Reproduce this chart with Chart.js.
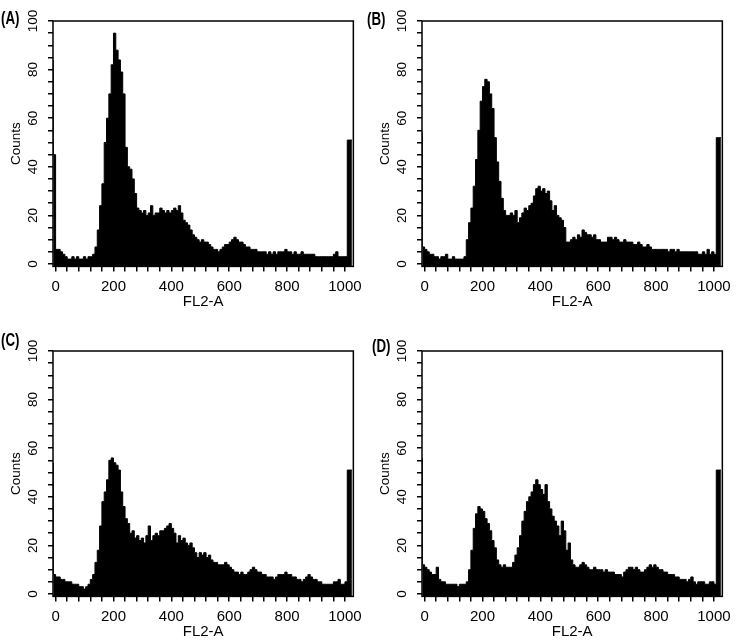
<!DOCTYPE html>
<html>
<head>
<meta charset="utf-8">
<script src="https://cdn.jsdelivr.net/npm/chart.js@4.4.0/dist/chart.umd.min.js"></script>
<style>
  body { margin: 0; background: #fff; }
  #page { position: relative; width: 737px; height: 644px; }
  canvas { position: absolute; }
  /* panel letters: condensed, medium-heavy */
  .tag {
    position: absolute;
    font-family: "Liberation Sans", Arial, sans-serif;
    font-weight: bold;
    font-size: 19px;
    line-height: 19px;
    color: #000;
    transform: scaleX(0.7);
    transform-origin: left top;
  }
</style>
</head>
<body>
<div id="page">
  <canvas id="chartA" width="368" height="314" style="left:0px;top:0px"></canvas>
  <canvas id="chartB" width="368" height="314" style="left:369px;top:0px"></canvas>
  <canvas id="chartC" width="368" height="314" style="left:0px;top:330px"></canvas>
  <canvas id="chartD" width="368" height="314" style="left:369px;top:330px"></canvas>
  <div class="tag" style="left:1px;top:8px">(A)</div>
  <div class="tag" style="left:367px;top:9px">(B)</div>
  <div class="tag" style="left:1px;top:330px">(C)</div>
  <div class="tag" style="left:372px;top:336px">(D)</div>
</div>
<script>
// bin starts (FL2-A channel); first bin holds the pile-up below 0, last bin the pile-up at 1023
const binStart = [-8].concat(Array.from({ length: 128 }, (_, i) => i * 8));
const binEnd = 1024;

// counts per bin
const countsA = [
  84, 45, 6, 6, 5, 4, 3, 2, 2, 3, 2, 3, 2, 2, 3, 2, 3, 3, 4, 7,
  14, 24, 33, 50, 60, 70, 82, 95, 88, 84,
  79, 70, 48, 40, 39, 35, 29, 23, 22, 21,
  22, 20, 21, 24, 20, 21, 21, 23, 22, 21,
  22, 21, 22, 23, 22, 24, 21, 18, 17, 16,
  14, 12, 11, 10, 9, 10, 9, 9, 8, 7,
  6, 6, 5, 6, 7, 8, 8, 9, 10, 11,
  10, 9, 9, 8, 7, 7, 6, 6, 6, 5,
  5, 5, 5, 4, 5, 4, 5, 4, 5, 5,
  5, 6, 5, 5, 4, 5, 4, 4, 5, 4,
  4, 4, 4, 4, 3, 3, 3, 3, 3, 3,
  3, 3, 4, 5, 3, 3, 3, 3, 51
];

const countsB = [
  54, 7, 6, 5, 4, 4, 3, 3, 2, 3, 3, 4, 2, 2, 3, 2, 2, 2, 2, 3,
  10, 17, 23, 32, 43, 55, 67, 73, 76, 75,
  70, 64, 52, 42, 34, 27, 22, 20, 20, 21,
  20, 22, 17, 19, 21, 23, 22, 24, 25, 28,
  31, 32, 30, 31, 29, 30, 26, 22, 24, 20,
  19, 18, 15, 9, 9, 10, 11, 10, 12, 11,
  14, 13, 12, 12, 11, 12, 10, 10, 9, 9,
  9, 11, 11, 10, 11, 10, 9, 9, 10, 9,
  9, 9, 8, 8, 9, 8, 7, 7, 8, 7,
  6, 6, 6, 6, 6, 6, 6, 5, 6, 6,
  5, 6, 5, 5, 5, 5, 5, 5, 5, 5,
  4, 4, 5, 4, 6, 4, 5, 4, 52
];

const countsC = [
  54, 8, 7, 7, 6, 6, 5, 5, 5, 4, 4, 4, 3, 3, 2, 3, 4, 6, 8, 13,
  18, 28, 38, 42, 47, 55, 56, 54, 53, 51,
  42, 36, 31, 29, 25, 26, 23, 24, 22, 23,
  21, 24, 28, 22, 24, 25, 24, 26, 26, 27,
  28, 29, 27, 25, 21, 24, 22, 23, 21, 20,
  21, 19, 17, 15, 17, 16, 17, 15, 16, 14,
  13, 13, 12, 12, 12, 13, 12, 11, 10, 9,
  9, 8, 9, 8, 8, 9, 10, 11, 10, 9,
  9, 8, 8, 7, 7, 7, 6, 7, 8, 8,
  8, 9, 8, 8, 7, 7, 6, 6, 5, 6,
  7, 8, 7, 6, 6, 5, 5, 4, 4, 4,
  4, 4, 5, 5, 6, 4, 4, 5, 51
];

const countsD = [
  56, 12, 11, 10, 9, 8, 8, 11, 6, 5, 5, 4, 4, 4, 4, 4, 3, 4, 4, 4,
  5, 10, 18, 27, 33, 36, 35, 34, 31, 29,
  26, 22, 19, 14, 12, 11, 12, 11, 11, 11,
  13, 16, 19, 24, 30, 34, 38, 40, 42, 45,
  47, 45, 43, 41, 45, 38, 35, 32, 30, 28,
  24, 30, 26, 18, 21, 14, 12, 11, 11, 12,
  13, 12, 11, 10, 10, 11, 10, 10, 10, 9,
  10, 9, 9, 9, 8, 8, 8, 7, 9, 10,
  11, 11, 10, 11, 10, 9, 9, 10, 11, 12,
  11, 12, 11, 10, 10, 9, 9, 8, 8, 8,
  7, 7, 6, 6, 6, 5, 6, 7, 5, 4,
  5, 5, 5, 4, 4, 5, 5, 4, 51
];

const xLabelEvery = 200;
const yLabelEvery = 20;

Chart.defaults.font.family = "'Liberation Sans', Arial, sans-serif";
Chart.defaults.color = "#000";

// black box round the plot area
const framePlugin = {
  id: "frame",
  afterDatasetsDraw(chart) {
    const { ctx, chartArea: a } = chart;
    ctx.save();
    ctx.strokeStyle = "#000";
    ctx.lineWidth = 1.5;
    ctx.strokeRect(a.left, a.top, a.right - a.left, a.bottom - a.top);
    ctx.restore();
  }
};

function histPoints(counts) {
  var pts = binStart.map((x, i) => ({ x: x, y: counts[i] }));
  pts.push({ x: binEnd, y: counts[counts.length - 1] });
  return pts;
}

function makePanel(id, counts) {
  var ctx = document.getElementById(id).getContext("2d");
  return new Chart(ctx, {
    type: "line",
    data: {
      datasets: [{
        data: histPoints(counts),
        stepped: "after",
        fill: "start",
        backgroundColor: "#000",
        borderColor: "#000",
        borderWidth: 1,
        pointRadius: 0
      }]
    },
    options: {
      responsive: false,
      animation: false,
      devicePixelRatio: 1,
      layout: { padding: { left: 0, top: 21, right: 13, bottom: 0 } },
      plugins: { legend: { display: false }, tooltip: { enabled: false } },
      scales: {
        x: {
          type: "linear",
          // range kept off a whole number of 40-steps so the ticks stay on 0, 40, 80 ...
          min: -9,
          max: 1029,
          afterFit: (scale) => { scale.height = 47.6; },
          border: { display: false },
          grid: { drawOnChartArea: false, tickLength: 5, color: "#000", lineWidth: 1.5 },
          ticks: {
            stepSize: 40,
            includeBounds: false,
            autoSkip: false,
            minRotation: 0,
            maxRotation: 0,
            padding: 6,
            font: { size: 15 },
            callback: (v) => (v % xLabelEvery === 0 ? String(v) : "")
          },
          title: {
            display: true,
            text: "FL2-A",
            font: { size: 15 },
            padding: { top: 0, bottom: 3.5 }
          }
        },
        y: {
          min: -1,
          max: 100,
          afterFit: (scale) => { scale.width = 53; },
          border: { display: false },
          grid: { drawOnChartArea: false, tickLength: 5, color: "#000", lineWidth: 1.5 },
          ticks: {
            stepSize: 5,
            includeBounds: false,
            autoSkip: false,
            minRotation: 90,
            maxRotation: 90,
            crossAlign: "center",
            padding: 3.5,
            font: { size: 13.5 },
            callback: (v) => (v % yLabelEvery === 0 ? String(v) : "")
          },
          title: {
            display: true,
            text: "Counts",
            font: { size: 13.5 },
            padding: { top: 8.6, bottom: 0 }
          }
        }
      }
    },
    plugins: [framePlugin]
  });
}

makePanel("chartA", countsA);
makePanel("chartB", countsB);
makePanel("chartC", countsC);
makePanel("chartD", countsD);
</script>
</body>
</html>
